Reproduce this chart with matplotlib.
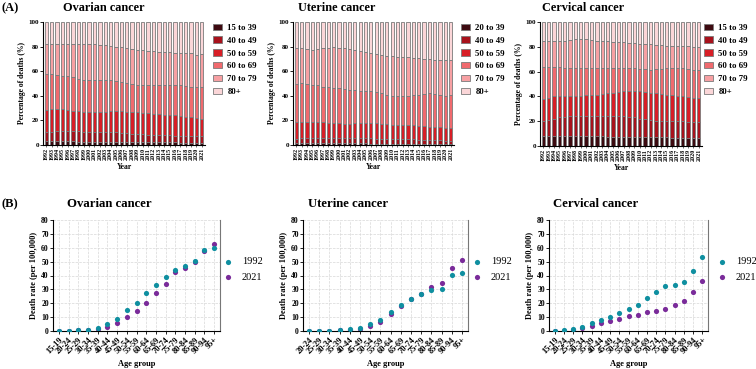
import numpy as np
import matplotlib
matplotlib.use("Agg")
from matplotlib import pyplot as plt

plt.rcParams['font.family'] = ['Liberation Serif', 'DejaVu Serif']

years = list(range(1992, 2022))

# cumulative tops of each age band (percent), 1992..2021
ov_labels = ["15 to 39", "40 to 49", "50 to 59", "60 to 69", "70 to 79", "80+"]
ov_c1 = [3.0, 3.0, 3.0, 3.0, 3.0, 3.0, 2.8, 2.8, 2.8, 2.8, 2.7, 2.7, 2.6, 2.6, 2.5,
         2.5, 2.4, 2.4, 2.3, 2.3, 2.2, 2.2, 2.2, 2.1, 2.1, 2.0, 2.0, 2.0, 2.0, 2.0]
ov_c2 = [10.5, 10.5, 11.0, 11.5, 11.5, 11.5, 11.0, 10.5, 10.5, 10.5, 10.5, 10.5, 10.5, 10.5, 10.0,
         9.5, 9.0, 9.0, 9.0, 8.5, 8.5, 8.0, 8.0, 8.0, 7.5, 7.5, 7.5, 7.5, 7.5, 7.5]
ov_c3 = [28.5, 29.0, 29.0, 29.5, 28.5, 28.0, 27.5, 27.0, 27.0, 27.0, 27.0, 27.0, 27.5, 28.0, 27.5,
         27.0, 27.0, 26.5, 26.0, 26.0, 25.5, 25.0, 24.5, 24.0, 24.0, 23.5, 23.0, 22.5, 22.0, 21.5]
ov_c4 = [58.0, 57.5, 57.0, 56.5, 56.0, 55.0, 54.0, 53.0, 52.5, 52.5, 52.5, 52.5, 52.5, 52.0, 51.0,
         50.5, 49.5, 49.0, 49.0, 49.0, 49.0, 49.0, 49.0, 49.0, 48.5, 48.5, 48.0, 47.5, 47.0, 47.5]
ov_c5 = [82.5, 82.5, 82.0, 82.0, 82.0, 82.0, 82.5, 82.5, 82.5, 82.0, 81.5, 81.0, 80.5, 80.0, 79.5,
         78.5, 78.0, 77.5, 77.0, 76.5, 76.5, 76.0, 75.5, 75.5, 75.0, 75.0, 74.5, 74.5, 73.5, 74.0]

ut_labels = ["20 to 39", "40 to 49", "50 to 59", "60 to 69", "70 to 79", "80+"]
ut_c1 = [1.5, 1.5, 1.5, 1.5, 1.5, 1.5, 1.5, 1.4, 1.4, 1.4, 1.3, 1.3, 1.3, 1.3, 1.2,
         1.2, 1.2, 1.2, 1.1, 1.1, 1.1, 1.1, 1.0, 1.0, 1.0, 1.0, 1.0, 1.0, 1.0, 1.0]
ut_c2 = [5.0, 5.5, 5.5, 6.0, 6.0, 6.0, 6.0, 6.0, 6.0, 5.5, 5.5, 5.5, 5.5, 5.5, 5.5,
         5.0, 5.0, 5.0, 5.0, 4.5, 4.5, 4.5, 4.5, 4.0, 4.0, 4.0, 4.0, 4.0, 3.5, 3.5]
ut_c3 = [19.0, 19.0, 19.0, 19.0, 19.0, 18.5, 18.0, 18.0, 17.5, 17.0, 17.0, 17.5, 18.0, 18.0, 18.0,
         17.5, 17.0, 17.0, 16.5, 16.5, 16.5, 16.0, 16.0, 15.5, 15.5, 15.0, 15.0, 14.5, 14.0, 14.0]
ut_c4 = [50.0, 50.5, 50.0, 49.0, 48.5, 47.5, 47.0, 46.5, 46.0, 45.5, 45.0, 44.5, 44.0, 44.0, 43.5,
         43.0, 42.0, 41.0, 40.0, 39.5, 39.5, 40.0, 40.5, 41.0, 41.5, 42.0, 41.5, 41.0, 40.0, 40.5]
ut_c5 = [78.5, 78.5, 78.0, 77.5, 78.0, 78.5, 79.0, 79.5, 79.0, 78.5, 78.0, 77.5, 76.5, 76.0, 75.0,
         74.0, 73.0, 72.5, 72.0, 71.5, 71.5, 71.5, 71.0, 70.5, 70.0, 70.0, 69.5, 69.5, 69.0, 69.5]

cv_labels = ["15 to 39", "40 to 49", "50 to 59", "60 to 69", "70 to 79", "80+"]
cv_c1 = [8.0, 8.0, 8.0, 8.0, 8.0, 8.0, 8.0, 8.0, 7.8, 7.8, 7.8, 7.7, 7.6, 7.5, 7.5,
         7.4, 7.3, 7.2, 7.2, 7.1, 7.0, 7.0, 7.0, 7.0, 6.8, 6.8, 6.7, 6.6, 6.5, 6.5]
cv_c2 = [20.0, 21.0, 22.0, 23.0, 23.5, 24.0, 24.0, 24.0, 24.0, 24.0, 24.0, 24.0, 24.0, 24.0, 24.0,
         24.0, 23.5, 23.0, 22.0, 21.5, 21.0, 20.5, 20.5, 20.5, 20.0, 20.0, 20.0, 19.5, 19.0, 19.0]
cv_c3 = [38.0, 39.0, 40.0, 40.5, 40.5, 40.5, 40.5, 40.5, 41.0, 41.0, 41.5, 42.0, 42.5, 43.0, 43.5,
         44.0, 44.0, 44.0, 44.0, 43.5, 43.0, 42.5, 42.0, 41.5, 41.0, 40.5, 40.0, 39.5, 39.0, 38.5]
cv_c4 = [63.5, 64.0, 64.0, 63.5, 63.0, 63.0, 62.5, 62.5, 62.5, 62.5, 62.5, 62.5, 62.5, 62.5, 63.0,
         63.0, 63.0, 62.5, 62.0, 62.0, 61.5, 62.0, 62.0, 62.5, 62.5, 62.5, 62.5, 62.0, 61.5, 61.5]
cv_c5 = [85.0, 85.0, 84.5, 84.5, 85.0, 85.5, 86.0, 86.5, 86.0, 85.5, 85.0, 85.0, 84.5, 84.0, 84.0,
         83.5, 83.0, 83.0, 82.5, 82.0, 82.0, 81.5, 81.5, 81.0, 81.0, 81.0, 80.5, 80.5, 80.0, 80.0]

band_colors = ["#3d0a10", "#a8121c", "#d81e26", "#f06a6e", "#f7a0a3", "#fbd6d8"]

# death rates per 100,000 by age group
ov_ages = ["15-19", "20-24", "25-29", "30-34", "35-39", "40-44", "45-49", "50-54", "55-59",
           "60-64", "65-69", "70-74", "75-79", "80-84", "85-89", "90-94", "95+"]
ov_1992 = [0.2, 0.3, 0.5, 1.0, 2.0, 5.0, 9.0, 15.0, 20.5, 27.5, 33.5, 39.0, 44.0, 47.0, 50.5, 58.5, 60.0]
ov_2021 = [0.1, 0.2, 0.4, 0.7, 1.5, 3.0, 6.0, 10.0, 14.5, 20.5, 27.5, 34.0, 42.5, 45.5, 50.0, 57.5, 63.0]

ut_ages = ["20-24", "25-29", "30-34", "35-39", "40-44", "45-49", "50-54", "55-59",
           "60-64", "65-69", "70-74", "75-79", "80-84", "85-89", "90-94", "95+"]
ut_1992 = [0.1, 0.2, 0.3, 0.6, 1.2, 2.5, 5.0, 8.0, 14.0, 19.0, 23.0, 26.5, 29.5, 30.0, 40.5, 42.0]
ut_2021 = [0.1, 0.2, 0.3, 0.5, 1.0, 1.8, 3.5, 6.5, 12.5, 18.0, 23.0, 26.5, 32.0, 34.5, 45.5, 51.0]

cv_ages = ov_ages
cv_1992 = [0.1, 0.5, 1.2, 3.0, 5.5, 8.0, 10.0, 13.0, 16.0, 19.0, 24.0, 28.0, 32.5, 33.5, 35.0, 43.5, 53.0]
cv_2021 = [0.1, 0.3, 0.8, 2.0, 3.5, 5.5, 7.0, 8.5, 10.5, 11.5, 13.5, 14.5, 16.0, 19.0, 21.5, 28.0, 36.0]

teal = "#0f8fa0"
purple = "#7a2b9a"

W, H = 756, 369
fig = plt.figure(figsize=(W / 100, H / 100), dpi=100)


def box(x0, y0, x1, y1):
    # pixel box -> figure fraction
    return [x0 / W, 1 - y1 / H, (x1 - x0) / W, (y1 - y0) / H]


def stacked(rect, title, title_x, labels, cums, leg_x):
    ax = fig.add_axes(box(*rect))
    x = np.arange(len(years))
    tops = [np.array(c) for c in cums] + [np.full(len(years), 100.0)]
    prev = np.zeros(len(years))
    handles = []
    for i, top in enumerate(tops):
        h = ax.bar(x, top - prev, bottom=prev, width=0.62, color=band_colors[i],
                   edgecolor="#7a7a7a", linewidth=0.6, label=labels[i])
        handles.append(h)
        prev = top
    ax.set_xlim(-0.6, len(years) - 0.4)
    ax.set_ylim(0, 100)
    ax.set_yticks(range(0, 101, 20))
    ax.set_xticks(x)
    ax.set_xticklabels([str(y) for y in years], rotation=90, fontsize=4.3, fontweight="bold")
    ax.tick_params(axis="y", labelsize=5, length=2, width=0.6, pad=1)
    ax.tick_params(axis="x", length=1.5, width=0.4, pad=0.5)
    for lab in ax.get_yticklabels():
        lab.set_fontweight("bold")
    ax.spines["top"].set_visible(False)
    ax.spines["right"].set_visible(False)
    ax.spines["left"].set_linewidth(0.8)
    ax.spines["bottom"].set_linewidth(0.8)
    ax.set_ylabel("Percentage of deaths (%)", fontsize=5.5, fontweight="bold", labelpad=2)
    ax.set_xlabel("Year", fontsize=5.5, fontweight="bold", labelpad=2)
    fig.text(title_x / W, 1 - 11 / H, title, fontsize=8.8, fontweight="bold", va="baseline")
    fig.legend(handles, labels, loc="upper left", bbox_to_anchor=(leg_x / W, 1 - 20 / H),
               frameon=False, prop={"size": 6.3, "weight": "bold"}, handlelength=1.1,
               handleheight=0.7, labelspacing=0.55, handletextpad=0.6, borderaxespad=0)
    return ax


def rates(rect, title, title_x, ages, v1992, v2021, leg_x):
    ax = fig.add_axes(box(*rect))
    x = np.arange(len(ages))
    ax.scatter(x, v1992, s=14, color=teal, zorder=3, label="1992", linewidths=0)
    ax.scatter(x, v2021, s=14, color=purple, zorder=2, label="2021", linewidths=0)
    ax.set_xlim(-0.6, len(ages) - 0.4)
    ax.set_ylim(0, 80)
    ax.set_yticks(range(0, 81, 10))
    ax.set_xticks(x)
    ax.set_xticklabels(ages, rotation=45, ha="right", rotation_mode="anchor",
                       fontsize=6, fontweight="bold")
    for lab in ax.get_yticklabels():
        lab.set_fontweight("bold")
    ax.tick_params(axis="y", labelsize=5.5, length=2, width=0.6, pad=1)
    ax.tick_params(axis="x", length=2, width=0.6, pad=1.5)
    ax.grid(True, linestyle="--", color="#d8d8d8", linewidth=0.5)
    ax.set_axisbelow(True)
    ax.spines["top"].set_visible(False)
    ax.spines["right"].set_color("#777777")
    ax.spines["right"].set_linewidth(0.8)
    ax.spines["left"].set_linewidth(0.8)
    ax.spines["bottom"].set_linewidth(0.8)
    ax.set_ylabel("Death rate (per 100,000)", fontsize=6, fontweight="bold", labelpad=2)
    ax.set_xlabel("Age group", fontsize=6, fontweight="bold", labelpad=3)
    fig.text(title_x / W, 1 - 207 / H, title, fontsize=9.2, fontweight="bold", va="baseline")
    fig.legend(loc="upper left", bbox_to_anchor=(leg_x / W, 1 - 253 / H), frameon=False,
               fontsize=7.5, handlelength=1.0, handletextpad=0.8, labelspacing=0.6,
               borderaxespad=0, handles=ax.collections[:2], labels=["1992", "2021"])
    return ax


stacked((43, 22, 205, 145), "Ovarian cancer", 63, ov_labels,
        [ov_c1, ov_c2, ov_c3, ov_c4, ov_c5], 209)
stacked((293, 22, 454, 145), "Uterine cancer", 298, ut_labels,
        [ut_c1, ut_c2, ut_c3, ut_c4, ut_c5], 457)
stacked((540, 22, 702, 146), "Cervical cancer", 542, cv_labels,
        [cv_c1, cv_c2, cv_c3, cv_c4, cv_c5], 700)

rates((53, 220, 220, 331), "Ovarian cancer", 67, ov_ages, ov_1992, ov_2021, 219)
rates((303, 220, 468, 331), "Uterine cancer", 308, ut_ages, ut_1992, ut_2021, 468)
rates((549, 220, 708, 331), "Cervical cancer", 553, cv_ages, cv_1992, cv_2021, 713)

fig.text(1 / W, 1 - 11 / H, "(A)", fontsize=9, fontweight="bold", va="baseline")
fig.text(1 / W, 1 - 207 / H, "(B)", fontsize=9, fontweight="bold", va="baseline")

fig.savefig("out.png", dpi=100)
